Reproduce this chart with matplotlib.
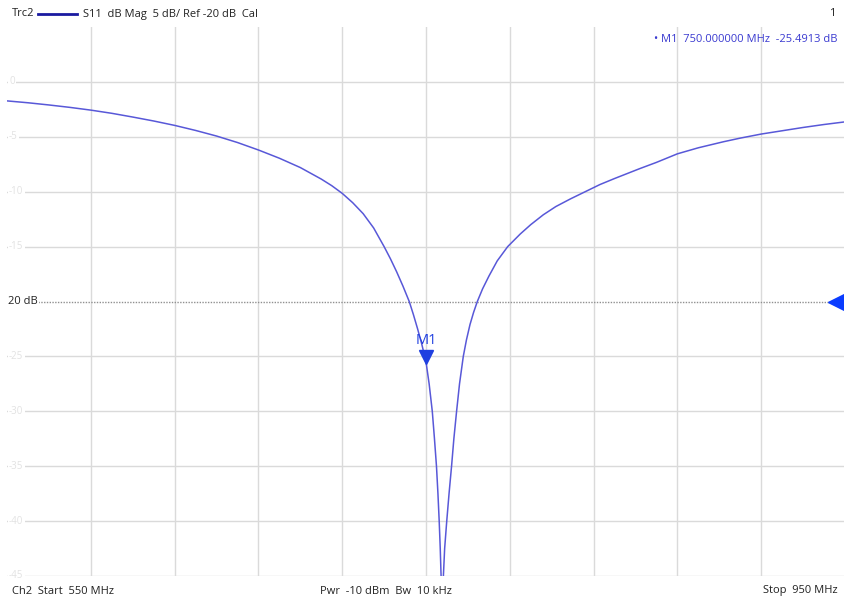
import matplotlib
matplotlib.use('Agg')
import matplotlib.pyplot as plt

# S11 trace
freq_mhz = [550, 560, 570, 580, 590, 600, 610, 620, 630, 640, 650, 660, 670, 680, 690,
            700, 705, 710, 715, 720, 725, 730, 733, 736, 739, 742, 744, 746, 748, 750,
            751.5, 753, 754, 755, 755.7, 756.3, 756.8, 757.2, 757.75, 758.3, 758.9,
            759.9, 761, 762.2, 763.3, 764.6, 766, 767.8, 769.3, 771, 772.7, 774.5, 777,
            780, 784, 789, 795, 800, 806, 812, 819, 826, 833, 840, 852, 860, 870, 880,
            892, 900, 910, 920, 930, 940, 950]
s11_db = [-1.73, -1.9, -2.1, -2.32, -2.57, -2.86, -3.2, -3.56, -3.96, -4.42, -4.93, -5.52,
          -6.2, -6.95, -7.8, -8.85, -9.45, -10.15, -11.0, -12.0, -13.3, -15.0, -16.1,
          -17.3, -18.6, -20.0, -21.2, -22.5, -23.9, -25.49, -27.5, -30.0, -32.4, -35.0,
          -37.5, -40.0, -42.5, -45.0, -55.0, -45.0, -42.5, -40.0, -37.5, -35.0, -32.5,
          -30.0, -27.5, -25.0, -23.5, -22.1, -21.0, -20.0, -18.85, -17.7, -16.3, -15.0,
          -13.85, -13.0, -12.1, -11.35, -10.65, -10.0, -9.35, -8.8, -7.9, -7.33, -6.55,
          -6.0, -5.45, -5.12, -4.75, -4.45, -4.15, -3.88, -3.64]

x_ticks = list(range(590, 951, 40))
y_ticks = [0, -5, -10, -15, -20, -25, -30, -35, -40, -45]
y_labels = ['0', '-5', '-10', '-15', '20 dB', '-25', '-30', '-35', '-40', '-45']
ref_db = -20
marker_f = 750
marker_db = -25.4913

plt.rcParams['font.family'] = ['Open Sans', 'DejaVu Sans']
trace_col = '#5858d8'
blue = '#1f3fe0'

W, H = 845, 600
fig = plt.figure(figsize=(W / 100, H / 100), dpi=100)
ax = fig.add_axes([7 / W, 24 / H, 838 / W, 549 / H])
ax.set_xlim(550, 950)
ax.set_ylim(-45, 5)

# grid
for xv in x_ticks:
    ax.axvline(xv, color='#dadada', lw=1, zorder=0)
for yv in y_ticks:
    if yv != ref_db:
        ax.axhline(yv, color='#dadada', lw=1, zorder=0)
for s in ax.spines.values():
    s.set_visible(False)
ax.set_xticks([])
ax.set_yticks([])

# faint scale labels on the left
for yv, lab in zip(y_ticks, y_labels):
    if yv == ref_db:
        ax.text(550.3, yv, lab, fontsize=8, color='#222222', va='center', ha='left',
                bbox=dict(facecolor='white', edgecolor='none', pad=1), zorder=3)
    else:
        ax.text(551, yv, lab, fontsize=7, color='#e2e2e2', va='center', ha='left',
                bbox=dict(facecolor='white', edgecolor='none', pad=1), zorder=1)

# reference line
ax.plot([565, 950], [ref_db, ref_db], color='#909090', lw=1, ls=(0, (1, 1)), zorder=1)
ax.plot([945.5], [ref_db], marker='<', color='#0a3cff', markersize=12, clip_on=False, zorder=5)

# trace
ax.plot(freq_mhz, s11_db, color=trace_col, lw=1.1, zorder=4)

# marker M1
ax.plot([marker_f], [marker_db + 0.4], marker='v', color=blue, markersize=10, zorder=5)
ax.text(marker_f, marker_db + 1.3, 'M1', color=blue, fontsize=10.5, ha='center', va='bottom', zorder=5)

# header
fig.text(12 / W, 1 - 14 / H, 'Trc2', fontsize=8, va='center', ha='left', color='#222222')
fig.add_artist(plt.Line2D([38 / W, 77 / W], [1 - 14 / H, 1 - 14 / H], color='#1a1aa0', lw=2))
fig.text(83 / W, 1 - 14 / H, 'S11  dB Mag  5 dB/ Ref -20 dB  Cal', fontsize=8,
         va='center', ha='left', color='#222222')
fig.text(835 / W, 1 - 14 / H, '1', fontsize=8, va='center', ha='right', color='#222222')
fig.text(838 / W, 1 - 40 / H, '\u2022 M1  750.000000 MHz  -25.4913 dB', fontsize=8,
         va='center', ha='right', color='#3a3ad0')

# footer
fig.text(12 / W, 1 - 591 / H, 'Ch2  Start  550 MHz', fontsize=8, va='center', ha='left', color='#222222')
fig.text(320 / W, 1 - 591 / H, 'Pwr  -10 dBm  Bw  10 kHz', fontsize=8, va='center', ha='left', color='#222222')
fig.text(838 / W, 1 - 591 / H, 'Stop  950 MHz', fontsize=8, va='center', ha='right', color='#222222')

fig.savefig('out.png', dpi=100)
